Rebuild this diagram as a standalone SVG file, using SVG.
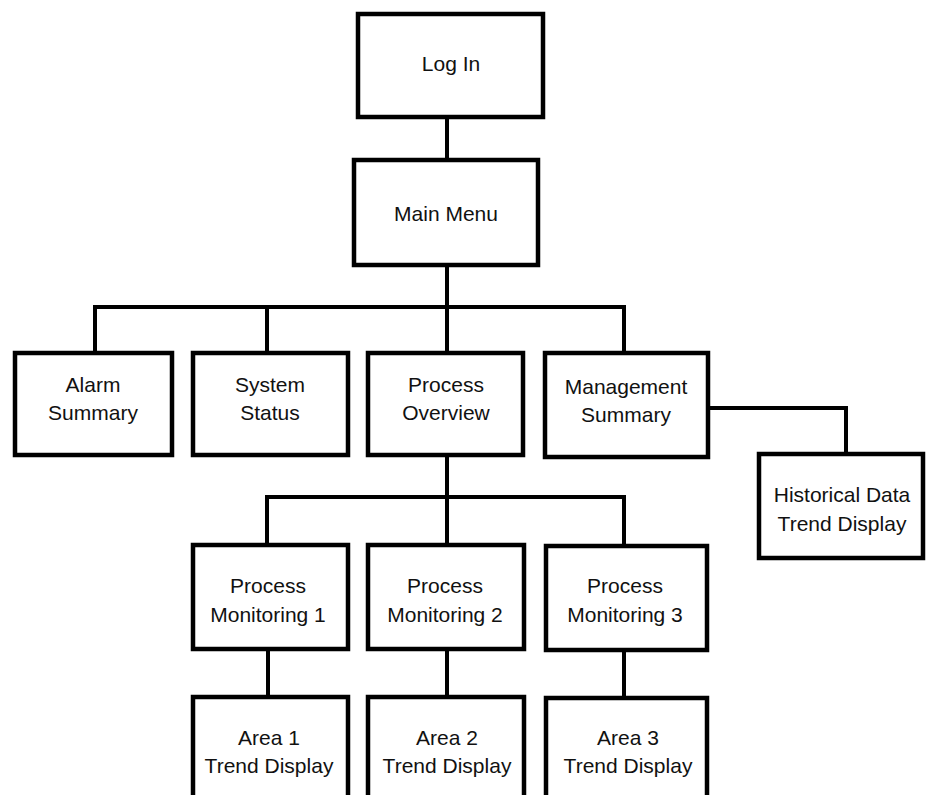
<svg xmlns="http://www.w3.org/2000/svg" width="932" height="795" viewBox="0 0 932 795">
<style>
.box{fill:#fff;stroke:#000;stroke-width:4.5}
.t{font-family:"Liberation Sans",Arial,sans-serif;font-size:21px;fill:#111;text-anchor:middle}
.c{fill:none;stroke:#000;stroke-width:4;stroke-linejoin:miter;stroke-linecap:square}
</style>
<rect width="932" height="795" fill="#fff"/>
<g id="connectors">
<path class="c" d="M447 117V160"/>
<path class="c" d="M447 265V352M95 352V307H624V352M267 307V352"/>
<path class="c" d="M708 408H846V454"/>
<path class="c" d="M447 455V545M267 545V497H624V545"/>
<path class="c" d="M268 648V697M447 648V697M624 648V697"/>
</g>
<g id="login"><rect class="box" x="358" y="14" width="185" height="103"/><text class="t" x="451" y="71">Log In</text></g>
<g id="mainmenu"><rect class="box" x="354" y="160" width="184" height="105"/><text class="t" x="446" y="221">Main Menu</text></g>
<g id="alarm"><rect class="box" x="15" y="353" width="157" height="102"/><text class="t" x="93" y="392">Alarm</text><text class="t" x="93" y="420">Summary</text></g>
<g id="system"><rect class="box" x="193" y="353" width="155" height="102"/><text class="t" x="270" y="392">System</text><text class="t" x="270" y="420">Status</text></g>
<g id="overview"><rect class="box" x="368" y="353" width="155" height="102"/><text class="t" x="446" y="392">Process</text><text class="t" x="446" y="420">Overview</text></g>
<g id="management"><rect class="box" x="545" y="353" width="163" height="104"/><text class="t" x="626" y="394">Management</text><text class="t" x="626" y="422">Summary</text></g>
<g id="historical"><rect class="box" x="759" y="454" width="164" height="104"/><text class="t" x="842" y="502">Historical Data</text><text class="t" x="842" y="531">Trend Display</text></g>
<g id="pm1"><rect class="box" x="193" y="545" width="155" height="104"/><text class="t" x="268" y="593">Process</text><text class="t" x="268" y="622">Monitoring 1</text></g>
<g id="pm2"><rect class="box" x="368" y="545" width="156" height="104"/><text class="t" x="445" y="593">Process</text><text class="t" x="445" y="622">Monitoring 2</text></g>
<g id="pm3"><rect class="box" x="546" y="546" width="161" height="104"/><text class="t" x="625" y="593">Process</text><text class="t" x="625" y="622">Monitoring 3</text></g>
<g id="area1"><rect class="box" x="193" y="697" width="155" height="110"/><text class="t" x="269" y="745">Area 1</text><text class="t" x="269" y="773">Trend Display</text></g>
<g id="area2"><rect class="box" x="368" y="697" width="156" height="110"/><text class="t" x="447" y="745">Area 2</text><text class="t" x="447" y="773">Trend Display</text></g>
<g id="area3"><rect class="box" x="546" y="698" width="161" height="110"/><text class="t" x="628" y="745">Area 3</text><text class="t" x="628" y="773">Trend Display</text></g>
</svg>
